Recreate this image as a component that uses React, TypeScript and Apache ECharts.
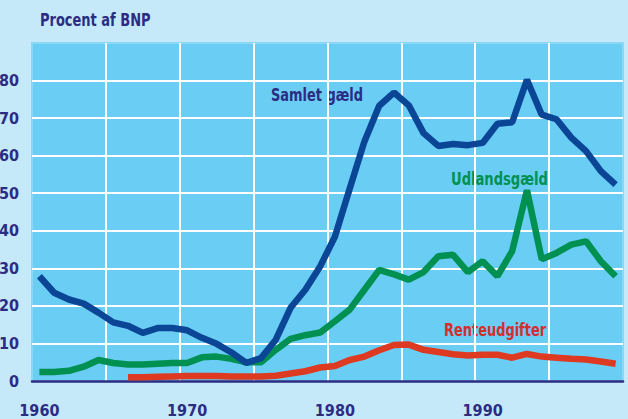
import React, { useEffect, useRef } from "react";
import * as echarts from "echarts";

const years: string[] = [];
for (let y = 1960; y <= 1999; y++) years.push(String(y));

const samletGaeld = [
  27.9, 23.5, 21.7, 20.6, 18.2, 15.6, 14.7, 12.8, 14.1, 14.1,
  13.5, 11.5, 9.9, 7.6, 4.8, 6.1, 11.0, 19.5, 24.3, 30.5,
  38.4, 51.2, 63.8, 73.3, 76.8, 73.4, 66.0, 62.6, 63.1, 62.8,
  63.4, 68.5, 68.9, 80.2, 70.9, 69.7, 64.8, 61.2, 55.9, 52.3,
];

const udlandsGaeld = [
  2.4, 2.4, 2.7, 3.8, 5.6, 4.8, 4.4, 4.4, 4.6, 4.8,
  4.8, 6.3, 6.5, 5.9, 5.0, 5.0, 8.3, 11.2, 12.2, 12.9,
  15.9, 19.0, 24.3, 29.6, 28.4, 27.0, 29.0, 33.2, 33.6, 29.0,
  31.9, 27.9, 34.6, 50.8, 32.4, 34.1, 36.3, 37.2, 31.9, 27.9,
];

const renteUdgifter: (number | null)[] = [
  null, null, null, null, null, null, 1.0, 1.0, 1.1, 1.2,
  1.3, 1.3, 1.3, 1.2, 1.2, 1.2, 1.4, 2.0, 2.6, 3.6,
  4.0, 5.6, 6.5, 8.2, 9.6, 9.7, 8.3, 7.7, 7.1, 6.8,
  7.0, 7.0, 6.2, 7.2, 6.5, 6.2, 5.9, 5.7, 5.2, 4.6,
];

const yMin = 0;
const yMax = 90;
const yStep = 10;
const titleText = "Procent af BNP";
const seriesNames = ["Samlet gæld", "Udlandsgæld", "Renteudgifter"];

const FONT = '"Liberation Sans Narrow", "DejaVu Sans Condensed", "Liberation Sans", sans-serif';
const NAVY = "#2B2C83";
const BLUE = "#0B4596";
const GREEN = "#009152";
const RED = "#DD3A21";

export default function App() {
  const ref = useRef<HTMLDivElement>(null);
  useEffect(() => {
    if (!ref.current) return;
    const chart = echarts.init(ref.current, undefined, { renderer: "svg" });
    chart.setOption({
      animation: false,
      backgroundColor: "#C6E9F9",
      textStyle: { fontFamily: FONT },
      grid: {
        left: 32,
        right: 5,
        top: 43,
        bottom: 38,
        containLabel: false,
        outerBoundsMode: "none",
        show: true,
        backgroundColor: "#6ACDF4",
        borderColor: "#8BD8F6",
        borderWidth: 2,
      },
      xAxis: {
        type: "category",
        data: years,
        boundaryGap: true,
        axisLine: { show: true, lineStyle: { color: NAVY, width: 2.5 } },
        axisTick: { show: false },
        axisLabel: {
          interval: 9,
          margin: 21,
          color: NAVY,
          fontFamily: FONT,
          fontWeight: "bold",
          fontSize: 16,
        },
        splitLine: {
          show: true,
          interval: 4,
          showMinLine: false,
          showMaxLine: false,
          lineStyle: { color: "#FFFFFF", width: 2 },
        },
      },
      yAxis: {
        type: "value",
        min: yMin,
        max: yMax,
        interval: yStep,
        axisLine: { show: false },
        axisTick: { show: false },
        axisLabel: {
          margin: 13,
          color: NAVY,
          fontFamily: FONT,
          fontWeight: "bold",
          fontSize: 16,
          formatter: (v: number) => (v >= yMax ? "" : String(v)),
        },
        splitLine: {
          show: true,
          showMinLine: false,
          showMaxLine: false,
          lineStyle: { color: "#FFFFFF", width: 2 },
        },
      },
      series: [
        {
          name: seriesNames[1],
          type: "line",
          data: udlandsGaeld,
          showSymbol: false,
          symbol: "none",
          lineStyle: { color: GREEN, width: 6.5 },
          z: 2,
        },
        {
          name: seriesNames[2],
          type: "line",
          data: renteUdgifter,
          showSymbol: false,
          symbol: "none",
          connectNulls: false,
          lineStyle: { color: RED, width: 6.5 },
          z: 3,
        },
        {
          name: seriesNames[0],
          type: "line",
          data: samletGaeld,
          showSymbol: false,
          symbol: "none",
          lineStyle: { color: BLUE, width: 6.5 },
          z: 4,
        },
      ],
      graphic: [
        {
          type: "text",
          x: 40,
          y: 12,
          scaleX: 0.85,
          style: {
            text: titleText,
            fill: NAVY,
            font: `bold 17px ${FONT}`,
            verticalAlign: "top",
          },
        },
        {
          type: "text",
          x: 271,
          y: 86,
          scaleX: 0.8,
          style: {
            text: seriesNames[0],
            fill: NAVY,
            font: `bold 18px ${FONT}`,
            verticalAlign: "top",
          },
        },
        {
          type: "text",
          x: 451,
          y: 170,
          scaleX: 0.81,
          style: {
            text: seriesNames[1],
            fill: GREEN,
            font: `bold 18px ${FONT}`,
            verticalAlign: "top",
          },
        },
        {
          type: "text",
          x: 444,
          y: 321,
          scaleX: 0.8,
          style: {
            text: seriesNames[2],
            fill: "#D32F2F",
            font: `bold 18px ${FONT}`,
            verticalAlign: "top",
          },
        },
      ],
    });
    return () => chart.dispose();
  }, []);
  return <div ref={ref} style={{ width: 628, height: 419, position: "absolute", left: 0, top: 0 }} />;
}
